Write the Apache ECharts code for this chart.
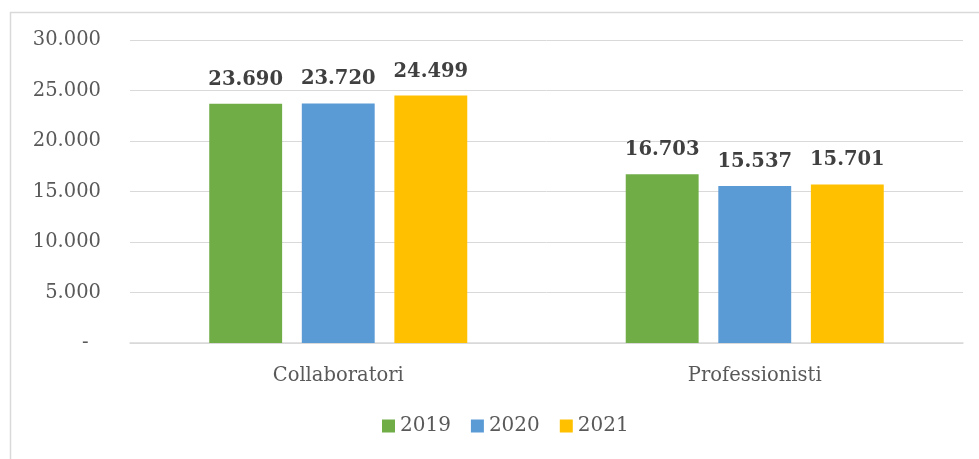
<!DOCTYPE html>
<html>
<head>
<meta charset="utf-8">
<script src="https://cdn.jsdelivr.net/npm/echarts@6/dist/echarts.min.js"></script>
<style>html,body{margin:0;padding:0;background:#fff}#c{width:979px;height:459px}</style>
</head>
<body>
<div id="c"></div>
<script>
const categories = ['Collaboratori', 'Professionisti'];
const years = ['2019', '2020', '2021'];
const values2019 = [23690, 16703];
const values2020 = [23720, 15537];
const values2021 = [24499, 15701];
const colors = ['#70AD47', '#5B9BD5', '#FFC000'];

function fmt(v) {
  if (v === 0) return '-  ';
  return String(Math.round(v)).replace(/\B(?=(\d{3})+(?!\d))/g, '.');
}

const FONT = 'DejaVu Serif';
const chart = echarts.init(document.getElementById('c'));
const seriesData = [values2019, values2020, values2021];
chart.setOption({
  animation: false,
  textStyle: { fontFamily: FONT },
  graphic: [{
    type: 'rect', left: 8, top: 10, z: -1,
    shape: { width: 1000, height: 500 },
    style: { fill: 'none', stroke: '#d9d9d9', lineWidth: 1.5 }
  }],
  grid: { left: 130, right: 16, top: 40, bottom: 116 },
  legend: {
    bottom: 18, left: 377, itemWidth: 13, itemHeight: 13, itemGap: 20,
    icon: 'rect',
    textStyle: { fontFamily: FONT, fontSize: 20, color: '#595959' },
    data: years
  },
  xAxis: {
    type: 'category', data: categories,
    axisLine: { lineStyle: { color: '#d9d9d9', width: 1.5 } },
    axisTick: { show: false },
    axisLabel: { fontFamily: FONT, fontSize: 19.5, color: '#595959', margin: 23 }
  },
  yAxis: {
    type: 'value', min: 0, max: 30000, interval: 5000,
    axisLine: { show: false }, axisTick: { show: false },
    splitLine: { lineStyle: { color: '#d9d9d9', width: 1 } },
    axisLabel: { fontFamily: FONT, fontSize: 19.5, color: '#595959', margin: 29, formatter: fmt }
  },
  series: years.map((y, i) => ({
    name: y, type: 'bar', data: seriesData[i],
    barWidth: '17.5%', barGap: '27%',
    itemStyle: { color: colors[i] },
    label: {
      show: true, position: 'top', distance: 14,
      fontFamily: FONT, fontSize: 19.5, fontWeight: 'bold', color: '#404040',
      formatter: p => fmt(p.value)
    }
  }))
});
</script>
</body>
</html>
